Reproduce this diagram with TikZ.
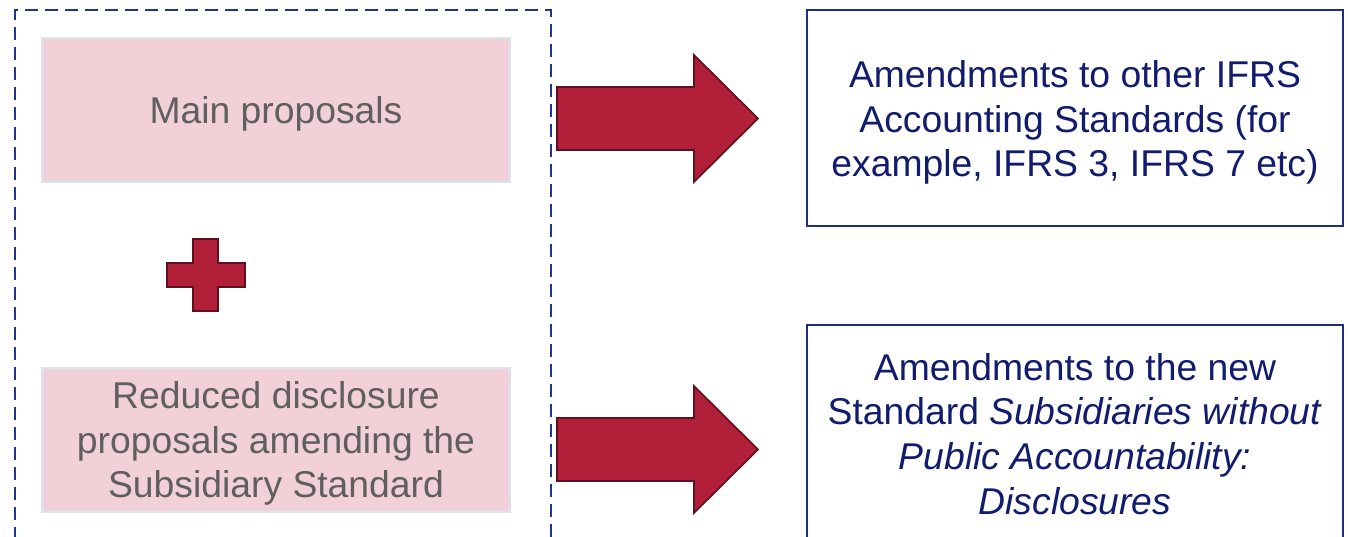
\documentclass[tikz,border=0pt]{standalone}
\usepackage{fontspec}
\setmainfont{Liberation Sans}
\definecolor{dashblue}{RGB}{32,52,140}
\definecolor{boxblue}{RGB}{30,45,130}
\definecolor{navytext}{RGB}{18,28,110}
\definecolor{pinkfill}{RGB}{242,208,215}
\definecolor{pinkedge}{RGB}{218,228,242}
\definecolor{greytext}{RGB}{95,95,95}
\definecolor{arrowred}{RGB}{178,31,57}
\definecolor{arrowedge}{RGB}{95,15,30}
\tikzset{
  txt/.style={font=\fontsize{37.3}{44.8}\selectfont, align=center, inner sep=0pt},
  pinkbox/.style={draw=pinkedge, line width=1.5pt, fill=pinkfill},
  outbox/.style={draw=boxblue, line width=1.5pt, fill=white},
  redshape/.style={fill=arrowred, draw=arrowedge, line width=1.6pt, line join=miter},
}
\begin{document}
\begin{tikzpicture}[x=1pt,y=-1pt]
\useasboundingbox (0,0) rectangle (1348,537);
\clip (0,0) rectangle (1348,537);
\fill[white] (0,0) rectangle (1348,537);

% dashed frame around the two proposals
\draw[dashblue, line width=1.6pt, dash pattern=on 13pt off 7pt] (15,560) -- (15,10) -- (551,10) -- (551,560);

% proposal boxes
\draw[pinkbox] (42,38) rectangle (510,182);
\node[txt, text=greytext] (mainp) at (276,113.5) {Main proposals};
\draw[pinkbox] (42,368) rectangle (510,512);
\node[txt, text=greytext] (redp) at (276,443.5) {Reduced disclosure\\proposals amending the\\Subsidiary Standard};

% plus sign
\draw[redshape] (193,239) -- (218,239) -- (218,263) -- (245,263) -- (245,287) -- (218,287)
  -- (218,311) -- (193,311) -- (193,287) -- (167,287) -- (167,263) -- (193,263) -- cycle;

% block arrows
\foreach \c in {118.5, 449.5} {
  \draw[redshape] (557,\c-31.5) -- (694,\c-31.5) -- (694,\c-63.5) -- (758,\c)
    -- (694,\c+63.5) -- (694,\c+31.5) -- (557,\c+31.5) -- cycle;
}

% resulting amendments
\draw[outbox] (807,10) rectangle (1343,226);
\node[txt, text=navytext] (amend1) at (1075,122.5) {Amendments to other IFRS\\Accounting Standards (for\\example, IFRS 3, IFRS 7 etc)};
\draw[outbox] (807,325) rectangle (1343,560);
\node[txt, text=navytext] (amend2) at (1075,434) {Amendments to the new\\Standard \textit{Subsidiaries without}\\\textit{Public Accountability:}\\\textit{Disclosures}};
\end{tikzpicture}
\end{document}
